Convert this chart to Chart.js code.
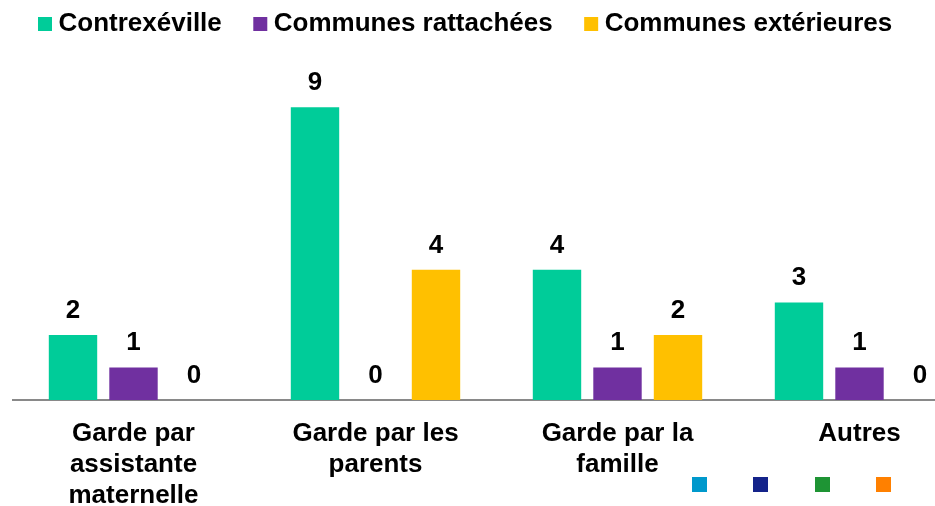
<!DOCTYPE html>
<html lang="fr">
<head>
<meta charset="utf-8">
<title>Mode de garde</title>
<script src="https://cdn.jsdelivr.net/npm/chart.js@4.4.1/dist/chart.umd.min.js"></script>
<style>
    html, body { margin: 0; padding: 0; background: #fff; overflow: hidden; }
    #wrap { position: relative; width: 993px; height: 506px; }
    .marque { position: absolute; top: 477px; width: 15px; height: 15px; }
</style>
</head>
<body>
<div id="wrap">
    <canvas id="graficoGarde"></canvas>
    <div class="marque" style="left:692px;background:#0099cc"></div>
    <div class="marque" style="left:753px;background:#14238a"></div>
    <div class="marque" style="left:815px;background:#1e9434"></div>
    <div class="marque" style="left:876px;background:#ff8000"></div>
</div>
<script>
const categories = [
    ['Garde par', 'assistante', 'maternelle'],
    ['Garde par les', 'parents'],
    ['Garde par la', 'famille'],
    'Autres'
];
const contrexeville = [2, 9, 4, 3];
const communesRattachees = [1, 0, 1, 1];
const communesExterieures = [0, 4, 2, 0];

const FONTE = '"Liberation Sans", Arial, sans-serif';

// valeurs au-dessus des barres
const etiquettes = {
    id: 'etiquettes',
    afterDatasetsDraw(chart) {
        const ctx = chart.ctx;
        ctx.save();
        ctx.font = `bold 26px ${FONTE}`;
        ctx.fillStyle = '#000';
        ctx.textAlign = 'center';
        ctx.textBaseline = 'alphabetic';
        chart.data.datasets.forEach((ds, i) => {
            chart.getDatasetMeta(i).data.forEach((bar, j) => {
                ctx.fillText(String(ds.data[j]), bar.x, bar.y - 17);
            });
        });
        ctx.restore();
    }
};

new Chart(document.getElementById('graficoGarde'), {
    type: 'bar',
    data: {
        labels: categories,
        datasets: [
            { label: 'Contrexéville', data: contrexeville, backgroundColor: '#00cc99' },
            { label: 'Communes rattachées', data: communesRattachees, backgroundColor: '#7030a0' },
            { label: 'Communes extérieures', data: communesExterieures, backgroundColor: '#ffc000' }
        ]
    },
    options: {
        responsive: true,
        maintainAspectRatio: false,
        animation: false,
        layout: { padding: { top: -27, left: 6.5, right: 12.5, bottom: 0 } },
        datasets: { bar: { categoryPercentage: 0.75, barPercentage: 0.8 } },
        plugins: {
            tooltip: { enabled: false },
            legend: {
                position: 'top',
                align: 'start',
                labels: {
                    usePointStyle: true,
                    pointStyle: 'rect',
                    boxWidth: 1,
                    boxHeight: 14,
                    padding: 38,
                    color: '#000',
                    font: { family: FONTE, size: 26, weight: 'bold' }
                }
            }
        },
        scales: {
            x: {
                grid: { display: false, drawTicks: false },
                border: { display: true, color: '#898989', width: 2 },
                ticks: {
                    color: '#000',
                    padding: 18,
                    maxRotation: 0,
                    autoSkip: false,
                    font: { family: FONTE, size: 26, weight: 'bold', lineHeight: 1.2 }
                },
                afterFit(scale) { scale.height = 106; }
            },
            y: {
                display: true,
                min: 0,
                max: 10.85,
                grid: { display: false, drawTicks: false },
                border: { display: false },
                ticks: { display: false },
                afterFit(scale) { scale.width = 6; }
            }
        }
    },
    plugins: [etiquettes]
});
</script>
</body>
</html>
